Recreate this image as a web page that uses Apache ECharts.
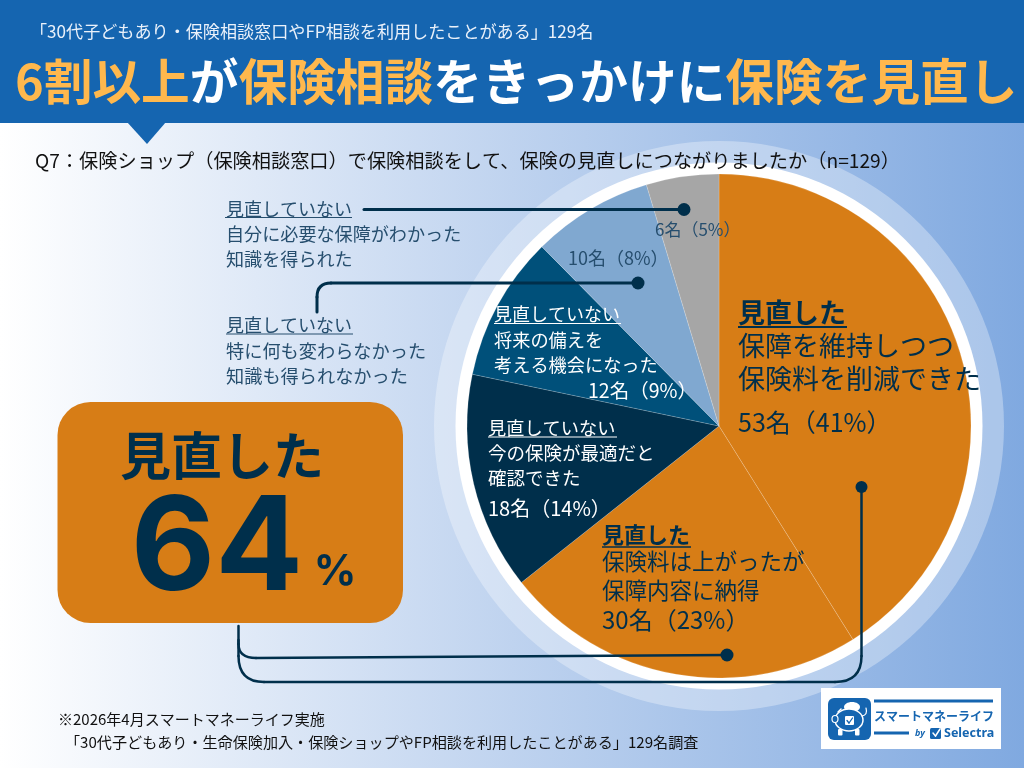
<!DOCTYPE html>
<html><head><meta charset="utf-8">
<style>html,body{margin:0;padding:0;background:#fff}#c{width:1024px;height:768px}</style>
<script src="https://cdn.jsdelivr.net/npm/echarts@6/dist/echarts.min.js"></script>
</head><body><div id="c"></div>
<script>
const categories = ['保障を維持しつつ保険料を削減できた','保険料は上がったが保障内容に納得','今の保険が最適だと確認できた','将来の備えを考える機会になった','特に何も変わらなかった知識も得られなかった','自分に必要な保障がわかった知識を得られた'];
const counts = [53,30,18,12,10,6];
const percents = [41,23,14,9,8,5];
const sliceColors = ['#D77D16','#D77D16','#002F4B','#00507A','#80A8D0','#A6A6A6'];
const FF = '"Noto Sans CJK JP"';
const NAVY='#002F4B', SLATE='#264E6E', BLUE='#1565B0';
const val = i => counts[i]+'名（'+percents[i]+'%）';
const els = [];
function t(x,y,text,size,fill,weight,align,z){
  els.push({type:'text',z:z||10,silent:true,style:{x,y,text,font:(weight||'normal')+' '+size+'px '+FF,fill,align:align||'left',verticalAlign:'middle',textAlign:align||'left',textVerticalAlign:'middle'}});
}
function seg(x1,y1,x2,y2,color,w,z){els.push({type:'line',z:z||12,silent:true,shape:{x1,y1,x2,y2},style:{stroke:color,lineWidth:w,lineCap:'round'}});}
function line(x1,y,x2,color,w,z){els.push({type:'line',z:z||10,silent:true,shape:{x1,y1:y,x2,y2:y},style:{stroke:color,lineWidth:w}});}
function curve(x1,y1,cx,cy,x2,y2,color,w,z){els.push({type:'bezierCurve',z:z||12,silent:true,shape:{x1,y1,x2,y2,cpx1:cx,cpy1:cy},style:{stroke:color,lineWidth:w,fill:'none',lineCap:'round'}});}
function rect(x,y,width,height,r,fill,z){els.push({type:'rect',z:z||10,silent:true,shape:{x,y,width,height,r},style:{fill}});}
function circ(cx,cy,r,fill,z,stroke,lw){els.push({type:'circle',z:z||10,silent:true,shape:{cx,cy,r},style:{fill,stroke,lineWidth:lw||0}});}

// rings behind the pie
circ(719,426,285,'rgba(255,255,255,0.32)',1);
circ(719,426,263.5,'#ffffff',1);

// header
rect(0,0,1024,123,0,BLUE,5);
els.push({type:'polygon',z:5,silent:true,shape:{points:[[127,122],[166,122],[147,144]]},style:{fill:BLUE}});
t(30,31,'「30代子どもあり・保険相談窓口やFP相談を利用したことがある」129名',17.1,'#EAF1FA');
els.push({type:'text',z:10,silent:true,style:{x:15,y:81,
  text:'{o|6割以上}{w|が}{o|保険相談}{w|をきっかけに}{o|保険を見直し}',
  font:'bold 48.7px '+FF,fill:'#fff',align:'left',verticalAlign:'middle',textAlign:'left',textVerticalAlign:'middle',
  rich:{o:{fill:'#FFB84D',font:'bold 48.7px '+FF},w:{fill:'#FFFFFF',font:'bold 48.7px '+FF}}}});
t(35,161,'Q7：保険ショップ（保険相談窓口）で保険相談をして、保険の見直しにつながりましたか（n=129）',19.2,'#111');

// left callout labels
t(226,209.5,'見直していない',18,SLATE); line(225,217.5,352,SLATE,1);
t(226,234.5,'自分に必要な保障がわかった',18.1,SLATE);
t(226,259.5,'知識を得られた',18.1,SLATE);
t(226,325,'見直していない',18,SLATE); line(226,334,353,SLATE,1);
t(226,351,'特に何も変わらなかった',18.2,SLATE);
t(226,376,'知識も得られなかった',18.2,SLATE);

// values & slice text
t(655,230,val(5),17,SLATE);
t(568,258,val(4),18,SLATE);
t(494,314.5,'見直していない',18,'#fff'); line(494,323.5,621,'#fff',1);
t(494,340.5,'将来の備えを',18.2,'#fff');
t(494,365.5,'考える機会になった',18.2,'#fff');
t(588,391,val(3),19.5,'#fff');
t(488,428,'見直していない',18.2,'#fff'); line(488,437,617,'#fff',1);
t(488,453,'今の保険が最適だと',18.5,'#fff');
t(488,478,'確認できた',18.5,'#fff');
t(488,508,val(2),20,'#fff');
t(602,535,'見直した',22,NAVY,'bold'); line(602,547,691,NAVY,1.5);
t(602,561,'保険料は上がったが',22.5,NAVY);
t(602,590,'保障内容に納得',22.5,NAVY);
t(602,620,val(1),24,NAVY);
t(738,313,'見直した',27,NAVY,'bold'); line(738,327,847,NAVY,2);
t(738,346,'保障を維持しつつ',27,NAVY);
t(738,379,'保険料を削減できた',27,NAVY);
t(738,422,val(0),25,NAVY);

// connectors
seg(364,209.5,684,209.5,NAVY,3);
circ(684,209.5,6.5,NAVY,12);
seg(317,312,317,297,NAVY,3);
curve(317,297,317,283,331,283,NAVY,3);
seg(331,283,638,283,NAVY,3);
circ(638,283,6.5,NAVY,12);
seg(238.5,626,238.5,644,NAVY,2.5);
curve(238.5,644,238.5,658,256,658,NAVY,2.5);
seg(256,658,727,655,NAVY,2.5);
circ(727,655,6.5,NAVY,12);
seg(238.5,640,238.5,656,NAVY,2.5);
curve(238.5,656,238.5,682,264,682,NAVY,2.5);
seg(264,682,835,682,NAVY,2.5);
curve(835,682,861.5,682,861.5,656,NAVY,2.5);
seg(861.5,656,861.5,487,NAVY,2.5);
circ(861.5,487,6,NAVY,12);

// big box
rect(57.5,402,345.5,221,33,'#D77D16',8);
t(222,456,'見直した',51,NAVY,'bold','center');
els.push({type:'text',z:10,silent:true,style:{x:217,y:551,text:'64',font:'bold 130px Inter',fill:NAVY,align:'center',verticalAlign:'middle',textAlign:'center',textVerticalAlign:'middle'}});
els.push({type:'text',z:10,silent:true,style:{x:335,y:572,text:'%',font:'bold 42px Inter',fill:NAVY,align:'center',verticalAlign:'middle',textAlign:'center',textVerticalAlign:'middle'}});

// footer
t(58,719,'※2026年4月スマートマネーライフ実施',15,'#111');
t(65,742,'「30代子どもあり・生命保険加入・保険ショップやFP相談を利用したことがある」129名調査',15.1,'#111');

// logo
rect(821,688,180,61,0,'#fff',10);
rect(828,698,43,42,6,BLUE,11);
els.push({type:'ellipse',z:11,silent:true,shape:{cx:852,cy:707,rx:8,ry:5},style:{fill:'#fff'}});
els.push({type:'ellipse',z:12,silent:true,shape:{cx:849,cy:720,rx:14,ry:11},style:{fill:BLUE,stroke:'#fff',lineWidth:1.5}});
els.push({type:'ellipse',z:13,silent:true,shape:{cx:835,cy:719,rx:3,ry:3.5},style:{fill:BLUE,stroke:'#fff',lineWidth:1.2}});
rect(838,729,4.5,6.5,1,'#fff',12);
rect(855,729,4.5,6.5,1,'#fff',12);
rect(845,716,9,9,1,'#fff',13);
seg(847,720.5,849,723,BLUE,1.3,14);
seg(849,723,852.5,718,BLUE,1.3,14);
curve(862,716,868,715,866,708,'#fff',1.2,13);
seg(838,712,841,709,'#fff',1.5,13);
line(874,701,993,BLUE,3,11);
t(874,716,'スマートマネーライフ',12,BLUE,'bold','left',12);
line(874,733,909,BLUE,3,11);
els.push({type:'text',z:12,silent:true,style:{x:915,y:733,text:'by',font:'italic bold 9px "Noto Sans"',fill:BLUE,verticalAlign:'middle',textVerticalAlign:'middle'}});
rect(930,728,11,11,1.5,BLUE,11);
seg(933,733,935.5,736,'#fff',1.5,13);
seg(935.5,736,940,729,'#fff',1.5,13);
els.push({type:'text',z:12,silent:true,style:{x:944,y:733,text:'Selectra',font:'bold 12.5px "Noto Sans"',fill:BLUE,verticalAlign:'middle',textVerticalAlign:'middle'}});

const chart = echarts.init(document.getElementById('c'),null,{renderer:'canvas',width:1024,height:768});
chart.setOption({
  animation:false,
  backgroundColor:{type:'linear',x:0,y:0,x2:1,y2:0,colorStops:[{offset:0,color:'#FFFFFF'},{offset:0.5,color:'#BFD3EF'},{offset:1,color:'#80A9E0'}]},
  tooltip:{show:false},
  series:[{type:'pie',center:[719,426],radius:[0,252],startAngle:90,clockwise:true,silent:true,z:2,
    label:{show:false},labelLine:{show:false},
    itemStyle:{borderColor:'rgba(255,255,255,0.35)',borderWidth:0.5},
    data:categories.map((name,i)=>({name,value:counts[i],itemStyle:{color:sliceColors[i]}}))}],
  graphic:{elements:els}
});
</script></body></html>
